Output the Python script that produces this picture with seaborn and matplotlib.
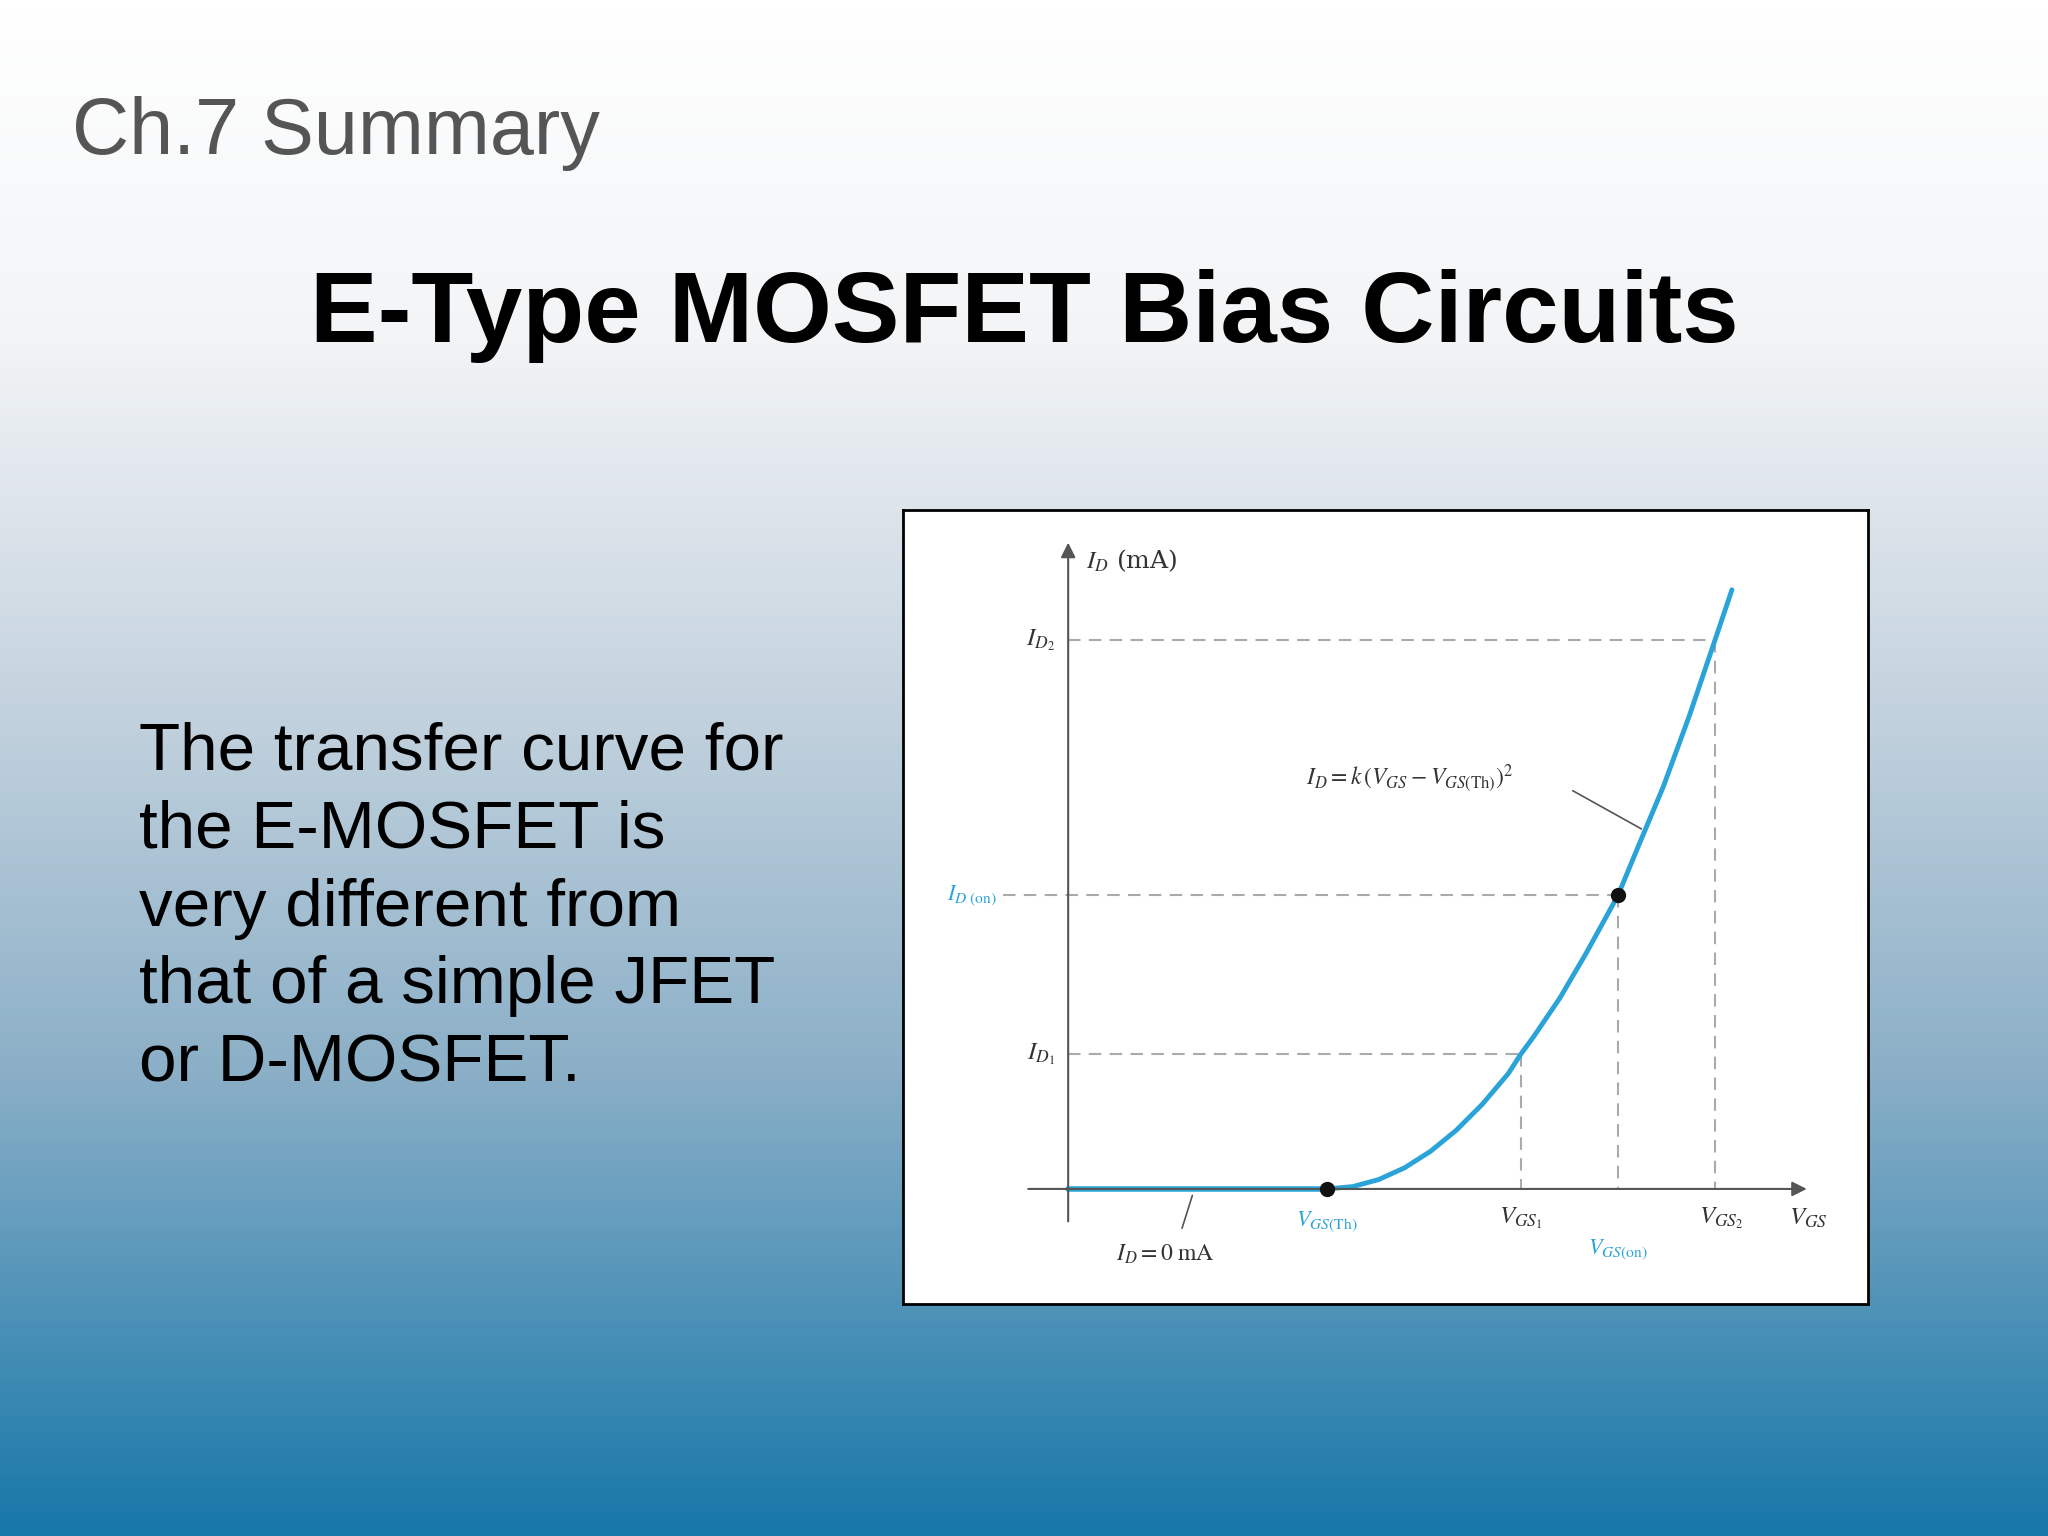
import numpy as np
import matplotlib
matplotlib.use("Agg")
import matplotlib.pyplot as plt
import seaborn as sns
from matplotlib.colors import LinearSegmentedColormap

sns.set_theme(style="white")
plt.rcParams['font.family'] = ['Liberation Sans', 'DejaVu Sans']
plt.rcParams['mathtext.fontset'] = 'stix'

# data
vgs_curve = [2.0, 2.2, 2.4, 2.6, 2.8, 3.0, 3.2, 3.4, 3.5, 3.6, 3.8, 4.0, 4.25, 4.4, 4.6, 4.8, 5.0, 5.13]
id_curve = [0.0, 0.04, 0.16, 0.36, 0.64, 1.0, 1.44, 1.96, 2.3, 2.6, 3.25, 4.0, 5.0, 5.8, 6.85, 8.05, 9.35, 10.2]
vgs_th = 2.0
pts_vgs = [3.5, 4.25, 5.0]
pts_id = [2.3, 5.0, 9.35]
blue = "#2aa3d8"

fig = plt.figure(figsize=(20.48, 15.36), dpi=100)
bg = fig.add_axes([0, 0, 1, 1])
bg.set_axis_off()
grad = np.linspace(0, 1, 512).reshape(-1, 1)
cmap = LinearSegmentedColormap.from_list("bg", [(0, "#ffffff"), (0.22, "#f2f4f6"), (0.45, "#c6d4df"),
                                               (0.7, "#8aafc7"), (1, "#1677a8")])
bg.imshow(grad, aspect="auto", cmap=cmap, extent=[0, 1, 0, 1], origin="upper")
bg.set_xlim(0, 1); bg.set_ylim(0, 1)

fig.text(0.035, 0.913, "Ch.7 Summary", fontsize=57, color="#555555", va="center", ha="left")
fig.text(0.5, 0.794, "E-Type MOSFET Bias Circuits", fontsize=73, fontweight="bold",
         color="black", va="center", ha="center")
fig.text(0.068, 0.53, "The transfer curve for\nthe E-MOSFET is\nvery different from\nthat of a simple JFET\nor D-MOSFET.",
         fontsize=48.5, color="black", va="top", ha="left", linespacing=1.33)

ax = fig.add_axes([0.4407, 0.151, 0.4713, 0.517])
ax.set_facecolor("white")
for s in ax.spines.values():
    s.set_visible(True); s.set_color("black"); s.set_linewidth(2)
ax.set_xticks([]); ax.set_yticks([])
ax.set_xlim(-1.28, 6.18)
ax.set_ylim(-1.96, 11.56)

ax_col = "#555555"
ax.annotate("", xy=(5.73, 0), xytext=(-0.33, 0),
            arrowprops=dict(arrowstyle="-|>", color=ax_col, lw=1.5, mutation_scale=22))
ax.annotate("", xy=(0, 11.05), xytext=(0, -0.6),
            arrowprops=dict(arrowstyle="-|>", color=ax_col, lw=1.5, mutation_scale=22))

dash = dict(color="#aaaaaa", lw=1.5, ls=(0, (6, 4)))
for v, i in zip(pts_vgs, pts_id):
    x0 = -0.5 if v == 4.25 else 0
    ax.plot([x0, v], [i, i], **dash)
    ax.plot([v, v], [i, 0], **dash)

sns.lineplot(x=[0, vgs_th], y=[0, 0], ax=ax, color=blue, lw=4)
sns.lineplot(x=vgs_curve, y=id_curve, ax=ax, color=blue, lw=3.5, sort=False)
ax.plot([vgs_th, 4.25], [0, 5.0], "o", color="#111111", ms=10, zorder=5)

fs = 18
ax.text(0.14, 10.7, r"$I_D$ (mA)", fontsize=fs, family="serif", color="#333333", va="center")
ax.text(-0.1, 9.35, r"$I_{D_2}$", fontsize=fs, color="#333333", va="center", ha="right")
ax.text(-0.1, 2.3, r"$I_{D_1}$", fontsize=fs, color="#333333", va="center", ha="right")
ax.text(-0.55, 5.0, r"$I_{D\ \mathrm{(on)}}$", fontsize=fs - 2, color=blue, va="center", ha="right")
ax.text(1.84, 7.0, r"$I_D = k\,(V_{GS} - V_{GS(\mathrm{Th})})^2$", fontsize=fs - 1,
        color="#333333", va="center", ha="left")
ax.plot([3.9, 4.43], [6.78, 6.13], color="#555555", lw=1.2)
ax.text(0.37, -1.11, r"$I_D = 0\ \mathrm{mA}$", fontsize=fs - 1, color="#333333", va="center")
ax.plot([0.88, 0.96], [-0.67, -0.11], color="#555555", lw=1.2)
ax.text(2.0, -0.55, r"$V_{GS(\mathrm{Th})}$", fontsize=fs - 2, color=blue, va="center", ha="center")
ax.text(3.5, -0.5, r"$V_{GS_1}$", fontsize=fs, color="#333333", va="center", ha="center")
ax.text(4.25, -1.04, r"$V_{GS(\mathrm{on})}$", fontsize=fs - 2, color=blue, va="center", ha="center")
ax.text(5.05, -0.5, r"$V_{GS_2}$", fontsize=fs, color="#333333", va="center", ha="center")
ax.text(5.72, -0.5, r"$V_{GS}$", fontsize=fs, color="#333333", va="center", ha="center")

fig.savefig("out.png", dpi=100)
